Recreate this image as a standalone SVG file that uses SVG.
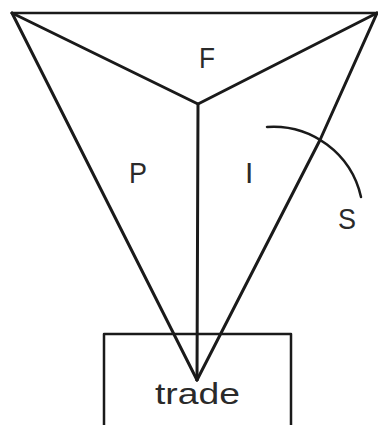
<svg xmlns="http://www.w3.org/2000/svg" width="378" height="425" viewBox="0 0 378 425">
<style>
.ln{fill:none;stroke:#1a1a1a;stroke-width:3;stroke-linejoin:round;stroke-linecap:round}
.thin{stroke-width:2.5}
.lbl{font-family:"Liberation Sans",Arial,sans-serif;font-size:30px;fill:#2a2a2a}
</style>
<rect width="378" height="425" fill="#ffffff"/>
<g id="connectors">
<path class="ln thin" d="M12,13 L377,13"/>
<path class="ln" d="M12,13 L198,104 L377,13"/>
<path class="ln" d="M12,13 L197,380"/>
<path class="ln" d="M377,13 L320,140 L197,380"/>
<path class="ln" d="M198,104 L197,380"/>
<path class="ln thin" d="M267,127 A90,90 0 0 1 361,197"/>
</g>
<g id="trade">
<path class="ln thin" d="M104,430 L104,334 L291,334 L291,430"/>
<text class="lbl" x="155" y="404" textLength="85" lengthAdjust="spacingAndGlyphs">trade</text>
</g>
<g id="F"><text class="lbl" x="199" y="68" textLength="16" lengthAdjust="spacingAndGlyphs">F</text></g>
<g id="P"><text class="lbl" x="129" y="183" textLength="18" lengthAdjust="spacingAndGlyphs">P</text></g>
<g id="I"><text class="lbl" x="245" y="183">I</text></g>
<g id="S"><text class="lbl" x="338" y="229" textLength="18" lengthAdjust="spacingAndGlyphs">S</text></g>
</svg>
